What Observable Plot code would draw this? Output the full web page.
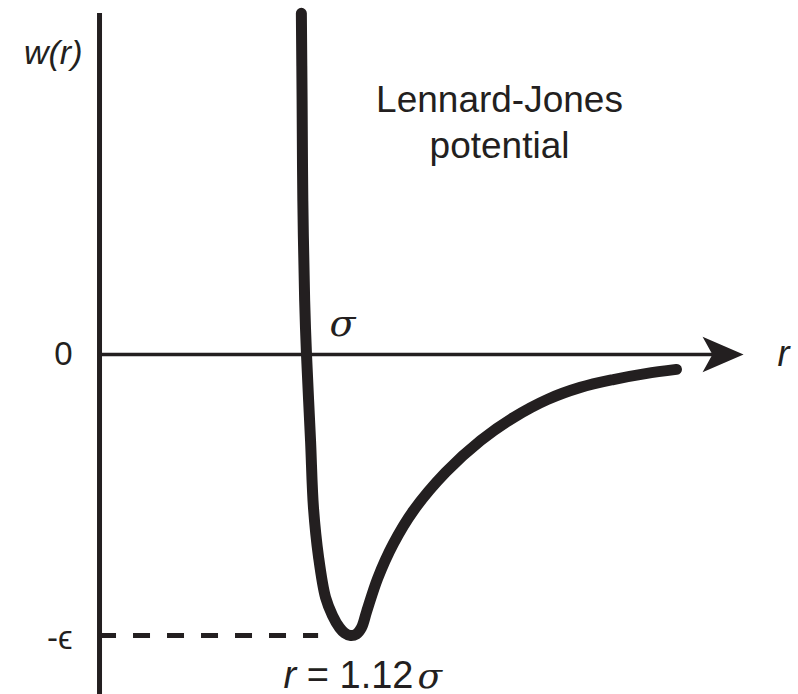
<!DOCTYPE html>
<html>
<head>
<meta charset="utf-8">
<script src="https://cdn.jsdelivr.net/npm/d3@7"></script>
<script src="https://cdn.jsdelivr.net/npm/@observablehq/plot@0.6"></script>
<style>
  html, body { margin: 0; padding: 0; background: #fff; }
  #chart svg { display: block; }
</style>
</head>
<body>
<div id="chart"></div>
<script>
// Separation r (in units of sigma) and potential w(r) (in units of epsilon)
const rValues = [0.986, 0.988, 0.990, 0.995, 1.000, 1.011, 1.019, 1.033, 1.052, 1.071, 1.090,
                 1.104, 1.120, 1.136, 1.150, 1.164, 1.194, 1.237, 1.292, 1.379, 1.475, 1.565,
                 1.657, 1.747, 1.837, 1.925, 2.009];
const wValues = [1.214, 0.904, 0.548, 0.192, 0.000, -0.306, -0.545, -0.722, -0.865, -0.929, -0.972,
                 -0.991, -1.000, -0.995, -0.972, -0.915, -0.797, -0.673, -0.555, -0.420, -0.306, -0.224,
                 -0.160, -0.117, -0.089, -0.068, -0.053];

// Key values
const sigma = 1.00;      // zero crossing
const rMin = 1.12;       // position of the minimum
const wMin = -1.00;      // depth of the well (-epsilon)

// Axis extents (data units)
const axisR = 0.4355;    // where the w axis stands
const axisTopW = 1.2135;
const axisBottomW = -1.22;
const axisEndR = 2.11;   // end of the r axis shaft
const arrowTipR = 2.192; // tip of the arrow head
const dashEndR = 1.033;  // end of the dashed -epsilon line

// Labels
const titleLines = ["Lennard-Jones", "potential"];
const yLabel = "w(r)";
const xLabel = "r";
const zeroLabel = "0";
const epsLabel = "-\u03F5";
const sigmaLabel = "\u03C3";
const minLabel = "r = 1.12";

const curve = rValues.map((r, i) => ({r, w: wValues[i]}));

const ink = "#231f20";
const greek = "'DejaVu Serif', serif";

// Notched, filled arrow head pointing right with its tip at the origin
const arrowHead = {
  draw(context, size) {
    const L = Math.sqrt(size / Math.PI);
    context.moveTo(0, 0);
    context.lineTo(-L, -0.43 * L);
    context.lineTo(-0.76 * L, 0);
    context.lineTo(-L, 0.43 * L);
    context.closePath();
  }
};

const chart = Plot.plot({
  width: 798,
  height: 694,
  margin: 0,
  x: {domain: [sigma, rMin], range: [306, 350], axis: null},
  y: {domain: [0, wMin], range: [354, 635], axis: null},
  style: {fontFamily: "'Liberation Sans', Arial, sans-serif", color: ink, background: "#fff"},
  marks: [
    // w axis
    Plot.ruleX([axisR], {y1: axisTopW, y2: axisBottomW, stroke: ink, strokeWidth: 5}),
    // r axis
    Plot.ruleY([0], {x1: axisR, x2: axisEndR, stroke: ink, strokeWidth: 3.5}),
    Plot.dot([arrowTipR], {x: d => d, y: 0, r: 41, symbol: arrowHead, fill: ink, stroke: "none"}),
    // dashed -epsilon level
    Plot.ruleY([wMin], {x1: axisR, x2: dashEndR, stroke: ink, strokeWidth: 5, strokeDasharray: "17,17"}),
    // the potential
    Plot.line(curve, {x: "r", y: "w", curve: "catmull-rom", stroke: ink, strokeWidth: 11,
                      strokeLinecap: "round", strokeLinejoin: "round"}),
    // labels
    Plot.text([titleLines.join("\n")], {frameAnchor: "top", dx: 100, dy: 157, lineAnchor: "bottom",
                      lineHeight: 1.22, fontSize: 37, fill: ink}),
    Plot.text([yLabel], {x: axisR, y: axisTopW, dx: -17, dy: 50, textAnchor: "end", lineAnchor: "bottom",
                      fontSize: 34, fontStyle: "italic", fill: ink}),
    Plot.text([zeroLabel], {x: axisR, y: 0, dx: -27, textAnchor: "end", lineAnchor: "middle",
                      fontSize: 33, fill: ink}),
    Plot.text([epsLabel], {x: axisR, y: wMin, dx: -27, dy: 3, textAnchor: "end", lineAnchor: "middle",
                      fontSize: 33, fill: ink}),
    Plot.text([sigmaLabel], {x: sigma, y: 0, dx: 23, dy: -19, textAnchor: "start", lineAnchor: "bottom",
                      fontSize: 38, fontStyle: "italic", fontFamily: greek, fill: ink}),
    Plot.text([xLabel], {x: arrowTipR, y: 0, dx: 34, dy: 11, textAnchor: "start", lineAnchor: "bottom",
                      fontSize: 36, fontStyle: "italic", fill: ink}),
    Plot.text([minLabel], {x: rMin, y: wMin, dx: 63, dy: 52, textAnchor: "end", lineAnchor: "bottom",
                      fontSize: 38, fill: ink}),
    Plot.text([sigmaLabel], {x: rMin, y: wMin, dx: 67, dy: 52, textAnchor: "start", lineAnchor: "bottom",
                      fontSize: 36, fontStyle: "italic", fontFamily: greek, fill: ink})
  ]
});

// italic r in the "r = 1.12" label
const minText = [...chart.querySelectorAll("text")].find(t => t.textContent === minLabel);
if (minText) {
  const target = minText.querySelector("tspan") || minText;
  target.textContent = "";
  const ns = "http://www.w3.org/2000/svg";
  const a = document.createElementNS(ns, "tspan");
  a.setAttribute("font-style", "italic");
  a.textContent = "r";
  const b = document.createElementNS(ns, "tspan");
  b.textContent = " = 1.12";
  target.appendChild(a);
  target.appendChild(b);
}

document.getElementById("chart").appendChild(chart);
</script>
</body>
</html>
